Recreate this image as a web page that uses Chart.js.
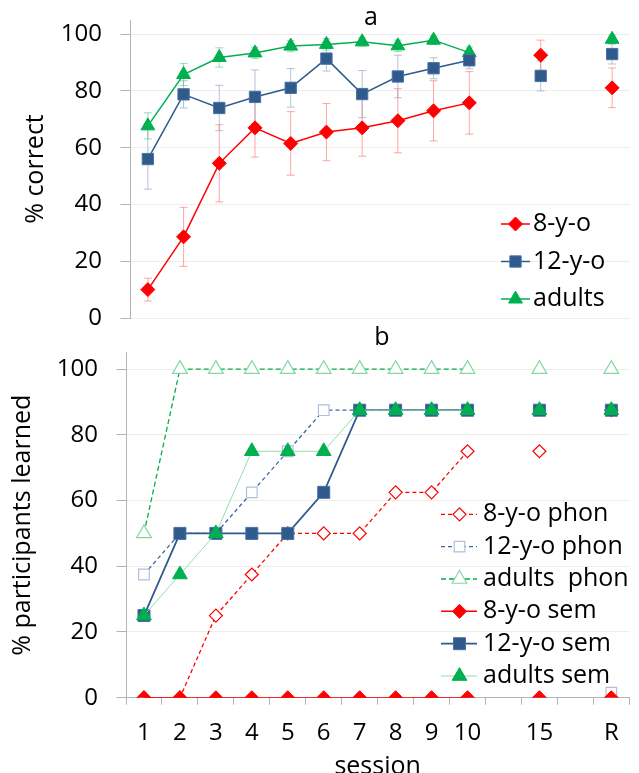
<!DOCTYPE html>
<html><head><meta charset="utf-8">
<script src="https://cdn.jsdelivr.net/npm/chart.js@4/dist/chart.umd.min.js"></script>
<style>
html,body{margin:0;padding:0;background:#fff;overflow:hidden;width:639px;height:773px}
#wrap{position:relative;width:639px;height:773px;overflow:hidden}
#cTop{position:absolute;left:0;top:0}
#cBot{position:absolute;left:0;top:320px}
</style></head><body>
<div id="wrap">
<canvas id="cTop" width="639" height="330"></canvas>
<canvas id="cBot" width="639" height="470"></canvas>
</div>
<script>
// ---- data ----
const sessions = ['1','2','3','4','5','6','7','8','9','10','','15','','R'];
const yTicks = [0, 20, 40, 60, 80, 100];

// panel a: % correct
const correct8      = [10, 28.6, 54.5, 67, 61.5, 65.5, 67, 69.5, 73, 75.8, null, 92.6, null, 81.1];
const correct12     = [56, 78.8, 74, 77.9, 81.1, 91.4, 78.9, 85.1, 88, 90.8, null, 85.3, null, 93];
const correctAdults = [67.7, 85.8, 91.8, 93.4, 95.8, 96.4, 97.3, 95.9, 97.9, 93.5, null, null, null, 98.2];
const err8      = [4, 10.4, 13.6, 10.3, 11.2, 10.1, 10, 11.3, 10.6, 11, null, 5.3, null, 7];
const err12     = [10.6, 4.8, 8, 9.5, 6.8, 4.4, 8.3, 7.5, 3.7, 3, null, 5.3, null, 3.5];
const errAdults = [4.6, 3.9, 3.4, 2, 2, 2, 1.5, 2, 1.5, 2, null, null, null, 1.5];

// panel b: % participants learned
const phon8      = [0, 0, 25, 37.5, 50, 50, 50, 62.5, 62.5, 75, null, 75, null, 87.5];
const phon12     = [37.5, 50, 50, 62.5, 75, 87.5, 87.5, 87.5, 87.5, 87.5, null, 87.5, null, 1.5];
const phonAdults = [50, 100, 100, 100, 100, 100, 100, 100, 100, 100, null, 100, null, 100];
const sem8       = [0, 0, 0, 0, 0, 0, 0, 0, 0, 0, null, 0, null, 0];
const sem12      = [25, 50, 50, 50, 50, 62.5, 87.5, 87.5, 87.5, 87.5, null, 87.5, null, 87.5];
const semAdults  = [25, 37.5, 50, 75, 75, 75, 87.5, 87.5, 87.5, 87.5, null, 87.5, null, 87.5];

// ---- styles ----
const RED = '#FF0000', BLUE = '#2F5A8C', GREEN = '#00B050';
const FONT = 'Open Sans';
const AXIS = '#B4B4B4', GRID = '#EDEDED';

const errorBarPlugin = {
  id: 'errorBars',
  beforeDatasetsDraw(chart) {
    const ctx = chart.ctx, ys = chart.scales.y;
    chart.data.datasets.forEach((ds, di) => {
      if (!ds.errors) return;
      const meta = chart.getDatasetMeta(di);
      ctx.save();
      ctx.strokeStyle = ds.errorColor; ctx.lineWidth = 1;
      ds.errors.forEach((e, i) => {
        const v = ds.data[i];
        if (v == null || e == null) return;
        const x = meta.data[i].x;
        const y1 = ys.getPixelForValue(v + e), y2 = ys.getPixelForValue(v - e);
        ctx.beginPath();
        ctx.moveTo(x, y1); ctx.lineTo(x, y2);
        ctx.moveTo(x - 4, y1); ctx.lineTo(x + 4, y1);
        ctx.moveTo(x - 4, y2); ctx.lineTo(x + 4, y2);
        ctx.stroke();
      });
      ctx.restore();
    });
  }
};

const panelPlugin = {
  id: 'panel',
  afterDraw(chart, args, o) {
    const ctx = chart.ctx;
    ctx.save();
    ctx.fillStyle = '#000';
    ctx.font = '25px "' + FONT + '"';
    ctx.textAlign = 'center'; ctx.textBaseline = 'alphabetic';
    ctx.fillText(o.letter, o.letterX, o.letterY);
    ctx.textAlign = 'left'; ctx.textBaseline = 'middle';
    o.items.forEach((di, k) => {
      const ds = chart.data.datasets[di];
      const y = o.y0 + k * o.dy;
      ctx.save();
      ctx.strokeStyle = ds.borderColor; ctx.lineWidth = ds.borderWidth;
      ctx.setLineDash(ds.borderDash || []);
      ctx.beginPath(); ctx.moveTo(o.x1, y); ctx.lineTo(o.x2, y); ctx.stroke();
      ctx.restore();
      ctx.save();
      ctx.fillStyle = ds.pointBackgroundColor; ctx.strokeStyle = ds.pointBorderColor;
      ctx.lineWidth = ds.pointBorderWidth; ctx.setLineDash([]);
      Chart.helpers.drawPoint(ctx, {pointStyle: ds.pointStyle, radius: ds.pointRadius, borderWidth: ds.pointBorderWidth, rotation: 0}, o.mx, y);
      ctx.restore();
      ctx.fillStyle = '#000';
      ctx.fillText(ds.label, o.tx, y);
    });
    ctx.restore();
  }
};

function yAxis(width, titleText, titlePad) {
  return {
    min: 0, max: 105,
    afterBuildTicks(s) { s.ticks = yTicks.map(v => ({value: v})); },
    afterFit(s) { s.width = width; s.paddingTop = 0; s.paddingBottom = 0; },
    ticks: {padding: 18.5, color: '#000', font: {family: FONT, size: 24}},
    grid: {color: GRID, tickColor: AXIS, tickLength: 9.5, lineWidth: 1},
    border: {color: AXIS, width: 1},
    title: {display: true, text: titleText, color: '#000', font: {family: FONT, size: 25}, padding: {top: titlePad, bottom: 0}}
  };
}

function ds(label, data, o) {
  return Object.assign({label, data, spanGaps: false, tension: 0, fill: false,
    pointHoverRadius: 0}, o);
}

// ---- top chart ----
new Chart(document.getElementById('cTop'), {
  type: 'line',
  data: {
    labels: sessions,
    datasets: [
      ds('8-y-o', correct8, {errors: err8, errorColor: 'rgba(255,80,80,0.5)', order: 1,
        borderColor: RED, borderWidth: 1.5, pointStyle: 'rectRot', pointRadius: 7,
        pointBackgroundColor: RED, pointBorderColor: RED, pointBorderWidth: 1}),
      ds('12-y-o', correct12, {errors: err12, errorColor: 'rgba(120,145,185,0.55)', order: 0,
        borderColor: BLUE, borderWidth: 1.5, pointStyle: 'rect', pointRadius: 8,
        pointBackgroundColor: BLUE, pointBorderColor: '#4A72A6', pointBorderWidth: 1}),
      ds('adults', correctAdults, {errors: errAdults, errorColor: 'rgba(80,190,120,0.55)', order: 2,
        borderColor: GREEN, borderWidth: 1.5, pointStyle: 'triangle', pointRadius: 8,
        pointBackgroundColor: GREEN, pointBorderColor: GREEN, pointBorderWidth: 1})
    ]
  },
  options: {
    responsive: false, animation: false, devicePixelRatio: 1,
    layout: {padding: {top: 20, bottom: 12, left: 0, right: 0}},
    scales: {
      x: {display: false, offset: true},
      y: yAxis(130, '% correct', 21)
    },
    plugins: {
      legend: {display: false}, tooltip: {enabled: false},
      panel: {letter: 'a', letterX: 371, letterY: 25, items: [0, 1, 2],
        x1: 501, x2: 530, mx: 515.5, tx: 533, y0: 224, dy: 37.5}
    }
  },
  plugins: [errorBarPlugin, panelPlugin]
});

// ---- bottom chart ----
new Chart(document.getElementById('cBot'), {
  type: 'line',
  data: {
    labels: sessions,
    datasets: [
      ds('8-y-o phon', phon8, {order: 5, borderColor: RED, borderWidth: 1.3, borderDash: [4, 3],
        pointStyle: 'rectRot', pointRadius: 6.5, pointBackgroundColor: '#fff', pointBorderColor: RED, pointBorderWidth: 1.2}),
      ds('12-y-o phon', phon12, {order: 4, borderColor: '#3E68A0', borderWidth: 1.3, borderDash: [4, 3],
        pointStyle: 'rect', pointRadius: 7.5, pointBackgroundColor: '#fff', pointBorderColor: '#AFC0DA', pointBorderWidth: 1.2}),
      ds('adults  phon', phonAdults, {order: 3, borderColor: GREEN, borderWidth: 1.3, borderDash: [5, 3],
        pointStyle: 'triangle', pointRadius: 8.5, pointBackgroundColor: '#fff', pointBorderColor: '#86D6A4', pointBorderWidth: 1.2}),
      ds('8-y-o sem', sem8, {order: 2, borderColor: RED, borderWidth: 1.5,
        pointStyle: 'rectRot', pointRadius: 7, pointBackgroundColor: RED, pointBorderColor: RED, pointBorderWidth: 1}),
      ds('12-y-o sem', sem12, {order: 1, borderColor: BLUE, borderWidth: 1.8,
        pointStyle: 'rect', pointRadius: 8.5, pointBackgroundColor: BLUE, pointBorderColor: '#4A72A6', pointBorderWidth: 1}),
      ds('adults sem', semAdults, {order: 0, borderColor: '#93DDB0', borderWidth: 1,
        pointStyle: 'triangle', pointRadius: 8.5, pointBackgroundColor: GREEN, pointBorderColor: GREEN, pointBorderWidth: 1})
    ]
  },
  options: {
    responsive: false, animation: false, devicePixelRatio: 1,
    layout: {padding: {top: 32.7, bottom: 0, left: 0, right: 0}},
    scales: {
      x: {
        offset: true,
        afterFit(s) { s.height = 470 - 377.7; s.paddingLeft = 0; s.paddingRight = 0; },
        grid: {offset: true, drawOnChartArea: false, tickLength: 7, tickColor: AXIS},
        border: {color: AXIS, width: 1},
        ticks: {padding: 14, color: '#000', autoSkip: false, maxRotation: 0, font: {family: FONT, size: 24}},
        title: {display: true, text: 'session', color: '#000', font: {family: FONT, size: 25}, padding: {top: 0, bottom: 8}}
      },
      y: yAxis(126, '% participants learned', 8)
    },
    plugins: {
      legend: {display: false}, tooltip: {enabled: false},
      panel: {letter: 'b', letterX: 382, letterY: 25, items: [0, 1, 2, 3, 4, 5],
        x1: 441, x2: 477, mx: 459.5, tx: 483, y0: 194.3, dy: 32.35}
    }
  },
  plugins: [panelPlugin]
});
</script>
</body></html>
